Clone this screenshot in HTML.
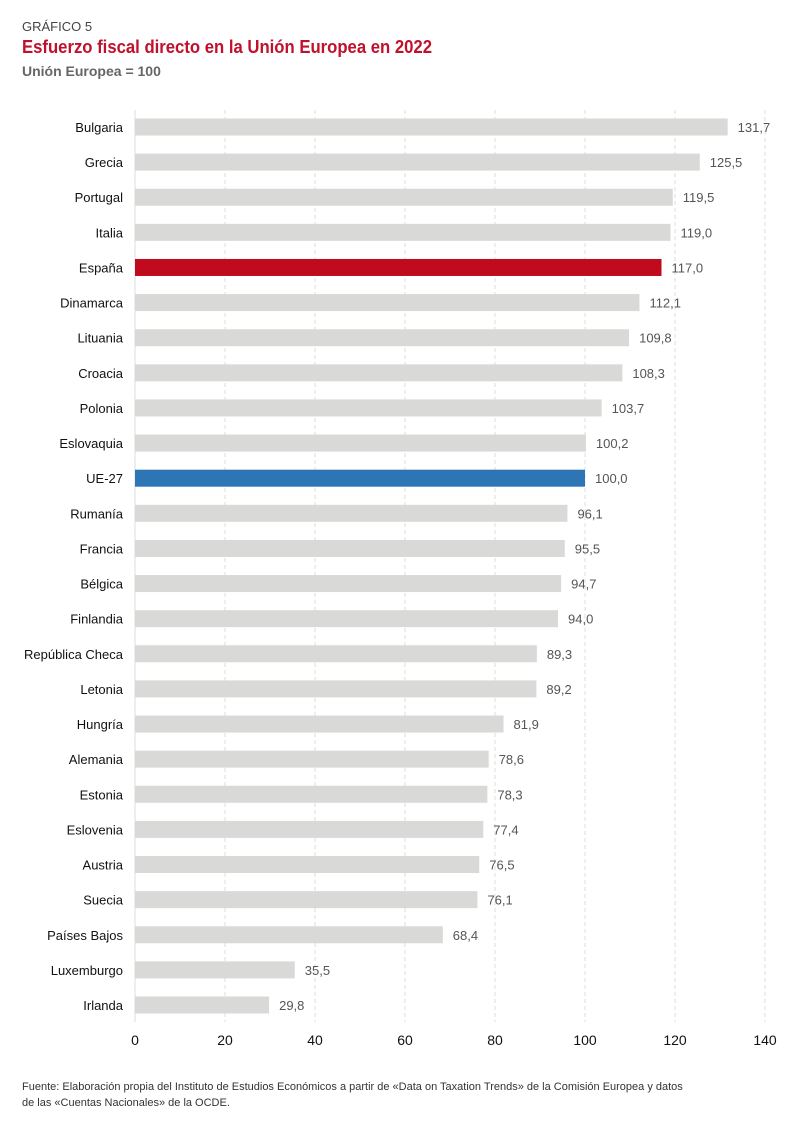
<!DOCTYPE html>
<html><head><meta charset="utf-8"><style>
body{margin:0;background:#fff;font-family:"Liberation Sans",sans-serif;}
</style></head><body>
<svg width="801" height="1134" xmlns="http://www.w3.org/2000/svg" style="font-family:'Liberation Sans',sans-serif">
<text x="22" y="31" font-size="13" fill="#444">GRÁFICO 5</text>
<text x="22" y="53" font-size="18" font-weight="bold" fill="#c0102c" textLength="410" lengthAdjust="spacingAndGlyphs">Esfuerzo fiscal directo en la Unión Europea en 2022</text>
<text x="22" y="76" font-size="14" font-weight="bold" fill="#666">Unión Europea = 100</text>
<g id="grid"></g><g id="bars"></g><g id="axis"></g>
<text x="22" y="1090" font-size="11" fill="#333">Fuente: Elaboración propia del Instituto de Estudios Económicos a partir de «Data on Taxation Trends» de la Comisión Europea y datos</text>
<text x="22" y="1106" font-size="11" fill="#333">de las «Cuentas Nacionales» de la OCDE.</text>
</svg>
<script>
const categories=["Bulgaria","Grecia","Portugal","Italia","España","Dinamarca","Lituania","Croacia","Polonia","Eslovaquia","UE-27","Rumanía","Francia","Bélgica","Finlandia","República Checa","Letonia","Hungría","Alemania","Estonia","Eslovenia","Austria","Suecia","Países Bajos","Luxemburgo","Irlanda"];
const values=[131.7,125.5,119.5,119.0,117.0,112.1,109.8,108.3,103.7,100.2,100.0,96.1,95.5,94.7,94.0,89.3,89.2,81.9,78.6,78.3,77.4,76.5,76.1,68.4,35.5,29.8];
const ticks=[0,20,40,60,80,100,120,140];
const NS="http://www.w3.org/2000/svg";
const x=v=>135+v*4.5;
const y=i=>127+i*35.12;
function mk(t,a,p){const e=document.createElementNS(NS,t);for(const k in a)e.setAttribute(k,a[k]);p.appendChild(e);return e;}
const g=document.getElementById('grid'),b=document.getElementById('bars'),ax=document.getElementById('axis');
ticks.forEach(t=>{
 const l=mk('line',{x1:x(t),x2:x(t),y1:110,y2:1022,stroke:'#ddd','stroke-width':1,'stroke-dasharray':t===0?'none':'4,3'},g);
 
 
 const tx=mk('text',{x:x(t),y:1045,'font-size':14,'text-anchor':'middle',fill:'#111'},ax);
 tx.textContent=t;
 
 
});
categories.forEach((c,i)=>{
 const col=c==="España"?'#c00a1e':c==="UE-27"?'#2e75b6':'#d9d9d8';
 const r=mk('rect',{x:x(0),y:y(i)-8.5,width:x(values[i])-x(0),height:17,fill:col},b);
 
 
 const lb=mk('text',{x:123,y:y(i)+5,'font-size':13,'text-anchor':'end',fill:'#111'},b);
 lb.textContent=c;
 
 
 const vl=mk('text',{x:x(values[i])+10,y:y(i)+5,'font-size':13,fill:'#555'},b);
 vl.textContent=values[i].toFixed(1).replace('.',',');
 
 
});
</script>
</body></html>
